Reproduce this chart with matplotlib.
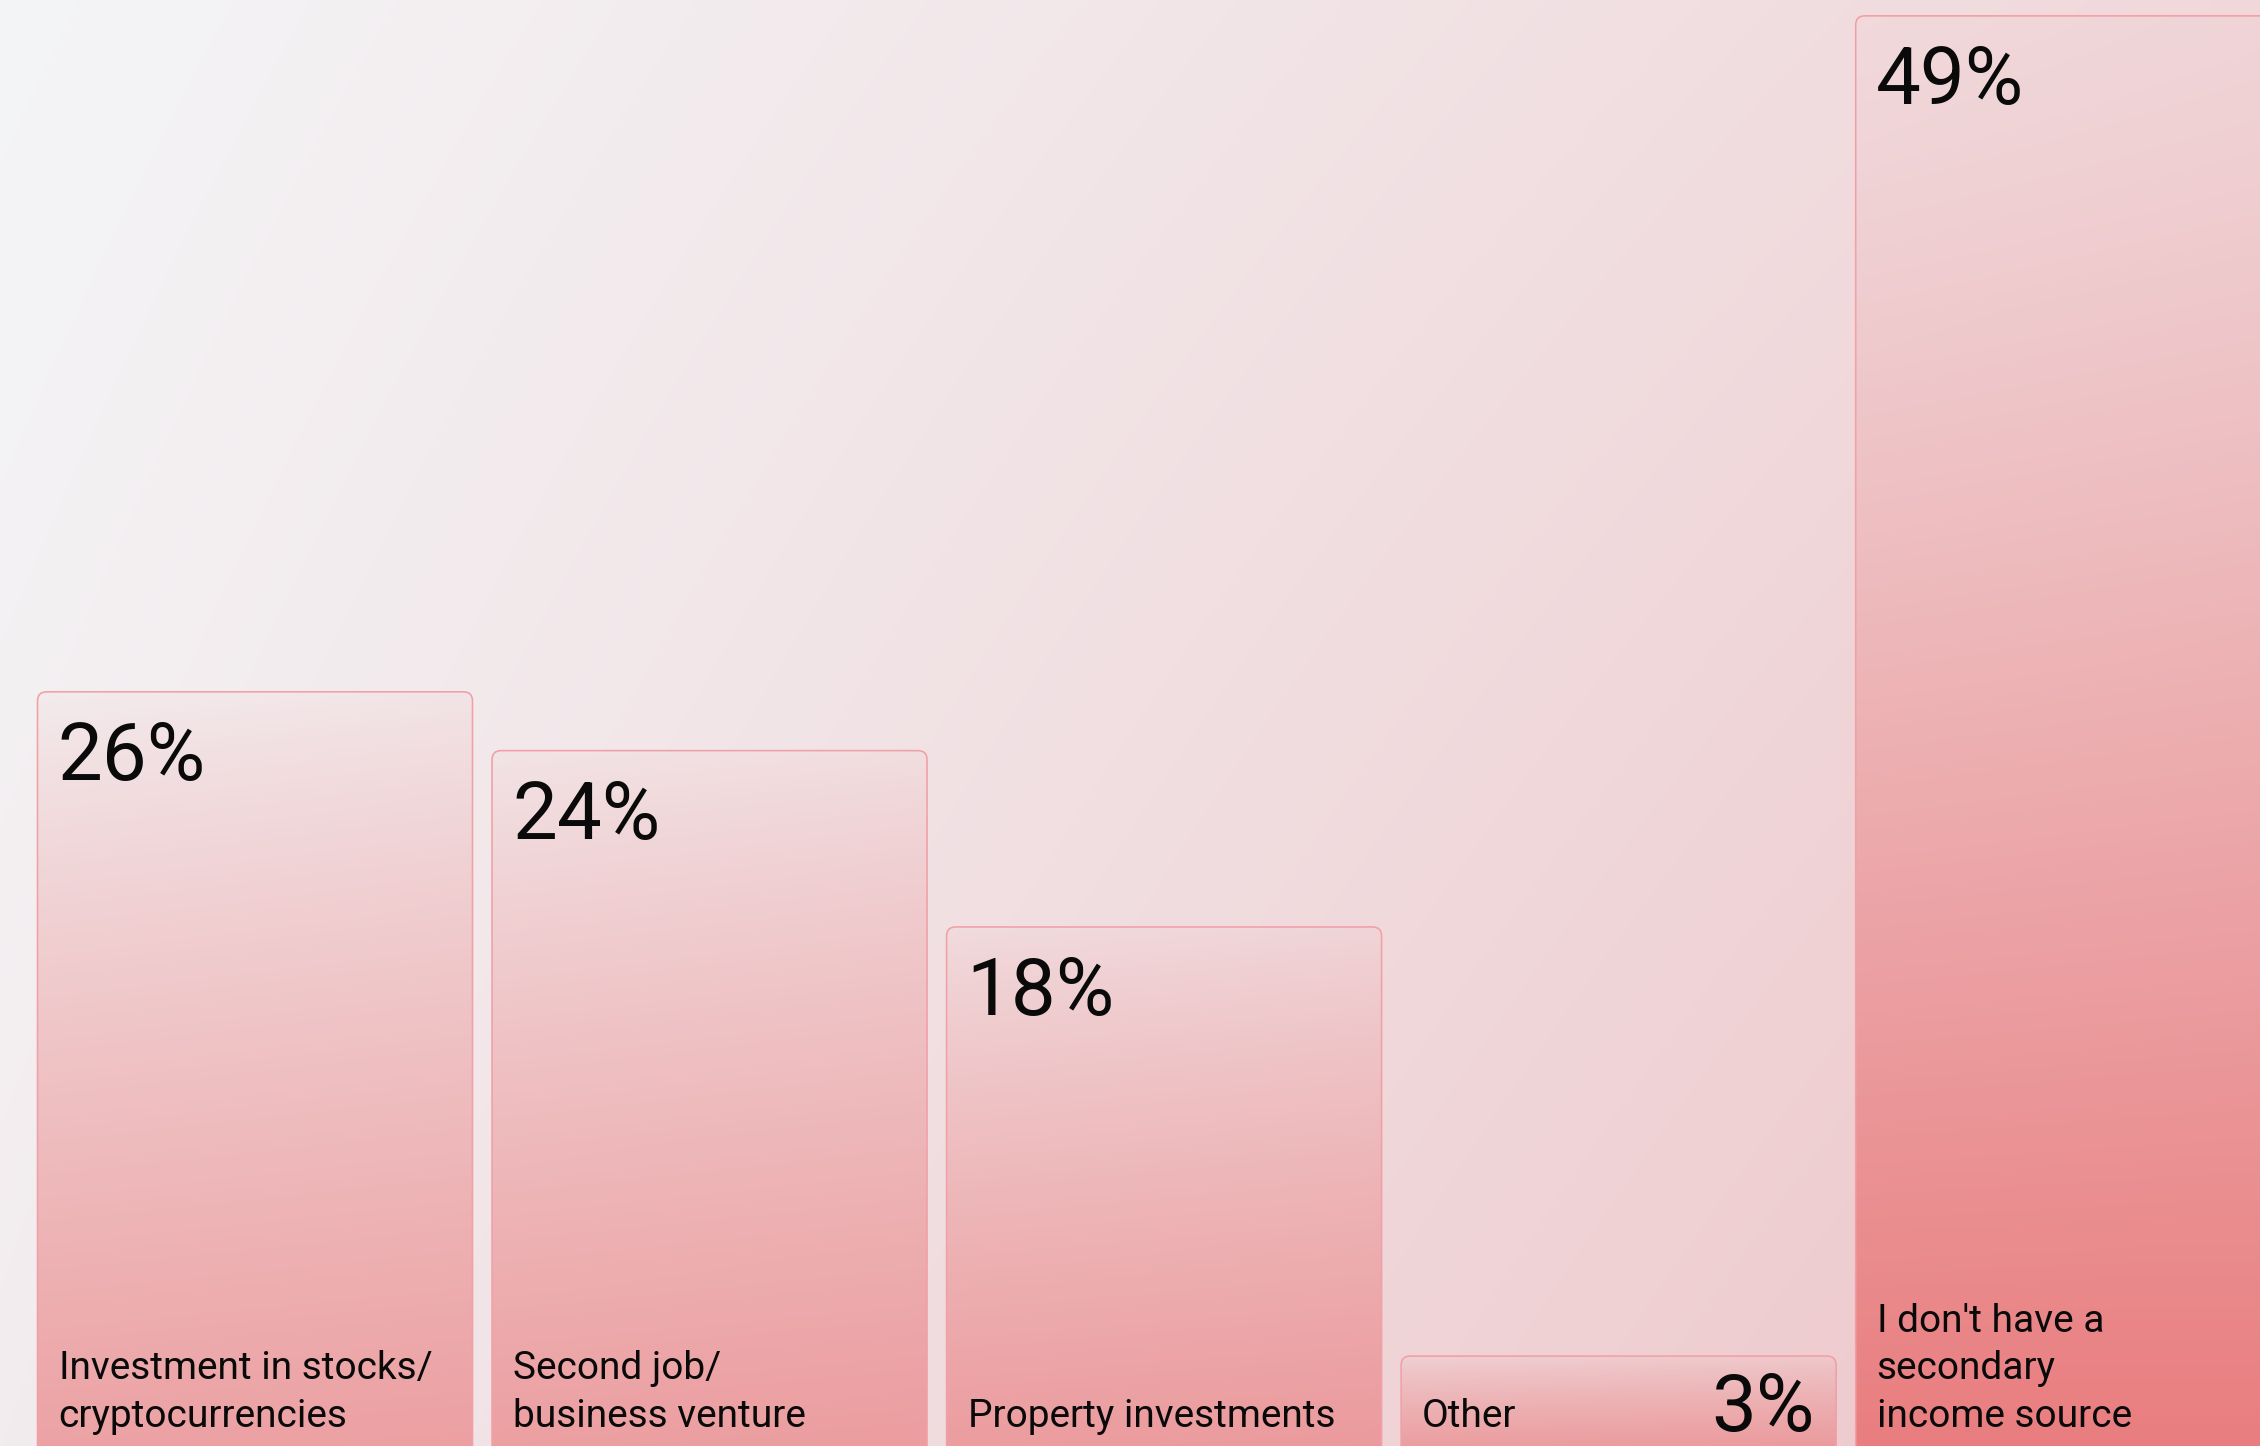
import numpy as np
import matplotlib
matplotlib.use("Agg")
import matplotlib.pyplot as plt
from matplotlib.patches import FancyBboxPatch
from matplotlib.colors import to_rgb

# ---------------- data ----------------
categories = [
    "Investment in stocks/\ncryptocurrencies",
    "Second job/\nbusiness venture",
    "Property investments",
    "Other",
    "I don't have a\nsecondary\nincome source",
]
values = [26, 24, 18, 3.4, 49]
value_labels = ["26%", "24%", "18%", "3%", "49%"]

# ---------------- layout / style ----------------
W, H, DPI = 2260, 1446, 100
PX = 72.0 / DPI  # points per pixel
plt.rcParams["font.family"] = ["Roboto", "DejaVu Sans"]

fig = plt.figure(figsize=(W / DPI, H / DPI), dpi=DPI)
ax = fig.add_axes([0, 0, 1, 1])
XL = (-0.561, 4.411)
YL = (0.34, 49.54)
ax.set_xlim(*XL)
ax.set_ylim(*YL)
ax.axis("off")

c0 = np.array(to_rgb("#f4f5f7"))
c1 = np.array(to_rgb("#eec8cb"))
pink = np.array(to_rgb("#e97c7e"))


def bg_color(xf, yf):
    s = np.clip(0.65 * xf + 0.2 * yf + 0.25 * xf * yf, 0, 1)[..., None]
    return c0 * (1 - s) + c1 * s


# background
yy, xx = np.mgrid[0:H:2, 0:W:2]
bg = bg_color(xx / W, yy / H)
ax.imshow(bg, extent=(XL[0], XL[1], YL[0], YL[1]), aspect="auto",
          origin="upper", zorder=0, interpolation="bilinear")

bars = ax.bar(range(len(values)), values, width=0.957,
              color="none", edgecolor="none", zorder=1)

px_x = (XL[1] - XL[0]) / W
px_y = (YL[1] - YL[0]) / H
radius_px = 9
vmax = max(values)

for i, r in enumerate(bars):
    left = r.get_x()
    wdt = r.get_width()
    top = r.get_height()
    bottom = 0.0
    lx = (left - XL[0]) / px_x
    rx = (left + wdt - XL[0]) / px_x
    ty = (YL[1] - top) / px_y
    by = (YL[1] - bottom) / px_y
    nx = max(int(rx - lx), 2)
    ny = max(int(by - ty), 2)
    gx = np.linspace(lx, rx, nx)
    gy = np.linspace(ty, by, ny)
    GX, GY = np.meshgrid(gx, gy)
    rel = (GY - ty) / (by - ty)
    if values[i] == vmax:
        tb, g = 0.95, 1.4
    else:
        tb, g = 0.62, 0.85
    t = np.clip(0.04 + tb * rel ** g, 0, 1)[..., None]
    img = bg_color(GX / W, GY / H) * (1 - t) + pink * t

    patch = FancyBboxPatch((left, bottom), wdt, top - bottom,
                           boxstyle="round,pad=0,rounding_size=%f" % (radius_px * px_x),
                           mutation_aspect=px_y / px_x,
                           facecolor="none", edgecolor="#f0a0a6",
                           linewidth=1.6 * PX, zorder=3)
    ax.add_patch(patch)
    im = ax.imshow(img, extent=(left, left + wdt, bottom, top), aspect="auto",
                   origin="upper", zorder=2, interpolation="bilinear")
    im.set_clip_path(patch)

    # percentage label
    if values[i] < 10:
        ax.annotate(value_labels[i], xy=(left + wdt, top), xycoords="data",
                    xytext=(-22 * PX, -75 * PX), textcoords="offset points",
                    ha="right", va="baseline", fontsize=57.5, color="#0a0a0a",
                    zorder=5, annotation_clip=False)
    else:
        ax.annotate(value_labels[i], xy=(left, top), xycoords="data",
                    xytext=(20 * PX, -88 * PX), textcoords="offset points",
                    ha="left", va="baseline", fontsize=57.5, color="#0a0a0a",
                    zorder=5, annotation_clip=False)

    # category label, lines stacked up from bottom
    lines = categories[i].split("\n")
    for k, line in enumerate(reversed(lines)):
        ax.annotate(line, xy=(left, 0), xycoords="data",
                    xytext=(21 * PX, (29 + 47.5 * k) * PX),
                    textcoords="offset points", ha="left", va="baseline",
                    fontsize=28, color="#0a0a0a", zorder=5,
                    annotation_clip=False)

fig.savefig("out.png", dpi=DPI)
